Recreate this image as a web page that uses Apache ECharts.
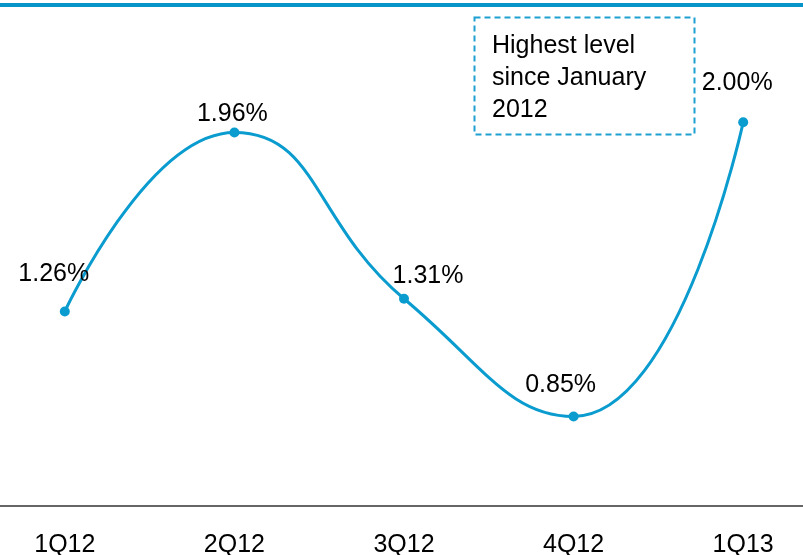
<!DOCTYPE html>
<html>
<head>
<meta charset="utf-8">
<script src="https://cdn.jsdelivr.net/npm/echarts@6/dist/echarts.min.js"></script>
<style>
html,body{margin:0;padding:0;background:#fff;}
#chart{width:803px;height:555px;}
</style>
</head>
<body>
<div id="chart"></div>
<script>
const categories = ['1Q12', '2Q12', '3Q12', '4Q12', '1Q13'];
const values = [1.26, 1.96, 1.31, 0.85, 2.00];
const annotationText = 'Highest level\nsince January\n2012';

const FONT = '"Liberation Sans", Arial, sans-serif';
const BLUE = '#0b9ccf';
// label placement tweaks (style only)
const labelShift = [[-11, -15], [-2, 4], [24, 0], [-13, -9], [-6, -17]];

const chart = echarts.init(document.getElementById('chart'), null, {renderer: 'canvas'});
const option = {
  animation: false,
  backgroundColor: '#fff',
  grid: {left: -20, right: -25, top: 71, bottom: 49, containLabel: false, outerBoundsMode: 'none'},
  xAxis: {
    type: 'category',
    data: categories,
    boundaryGap: true,
    axisLine: {show: true, lineStyle: {color: '#666', width: 2}},
    axisTick: {show: false},
    axisLabel: {color: '#000', fontSize: 25, fontFamily: FONT, margin: 27}
  },
  yAxis: {
    type: 'value', min: 0.5, max: 2.2, show: false,
    splitLine: {show: false}
  },
  series: [{
    type: 'line',
    data: values.map((v, i) => ({
      value: v,
      label: {offset: labelShift[i]}
    })),
    smooth: 0.5,
    symbol: 'circle',
    symbolSize: 10,
    lineStyle: {color: BLUE, width: 3},
    itemStyle: {color: BLUE},
    label: {
      show: true, position: 'top', color: '#000',
      fontSize: 25, fontFamily: FONT,
      formatter: p => p.value.toFixed(2) + '%'
    }
  }],
  graphic: [
    {type: 'rect', left: 0, top: 3, shape: {width: 803, height: 4}, style: {fill: '#0795c9'}, silent: true},
    {type: 'rect', left: 472, top: 15, shape: {width: 220, height: 117},
      style: {fill: 'none', stroke: '#1fa0d2', lineWidth: 2, lineDash: [6, 4]}, silent: true},
    {type: 'text', left: 492, top: 30,
      style: {text: annotationText, font: '25px ' + FONT, lineHeight: 32, fill: '#000'}, silent: true}
  ]
};
chart.setOption(option);
</script>
</body>
</html>
